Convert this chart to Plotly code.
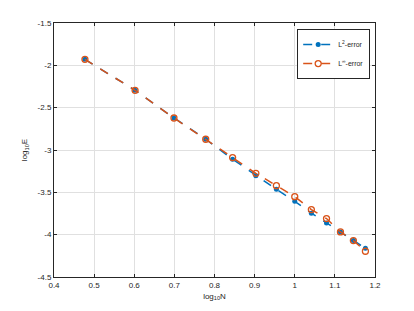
import numpy as np
import plotly.graph_objects as go

N = [3, 4, 5, 6, 7, 8, 9, 10, 11, 12, 13, 14, 15]
logN = list(np.log10(N))
err_L2 = [-1.929, -2.295, -2.622, -2.873, -3.109, -3.303, -3.464, -3.606, -3.747, -3.861, -3.968, -4.070, -4.160]
err_Linf = [-1.929, -2.295, -2.622, -2.873, -3.090, -3.275, -3.421, -3.551, -3.704, -3.810, -3.968, -4.070, -4.196]
xticks = [0.4, 0.5, 0.6, 0.7, 0.8, 0.9, 1.0, 1.1, 1.2]
xticklabels = ["0.4", "0.5", "0.6", "0.7", "0.8", "0.9", "1", "1.1", "1.2"]
yticks = [-4.5, -4, -3.5, -3, -2.5, -2, -1.5]
yticklabels = ["-4.5", "-4", "-3.5", "-3", "-2.5", "-2", "-1.5"]

blue = "#0072BD"
orange = "#D95319"

fig = go.Figure()
fig.add_trace(go.Scatter(
    x=logN, y=err_L2, mode="lines+markers", name="L<sup>2</sup>-error",
    line=dict(color=blue, width=1.5, dash="dash"),
    marker=dict(symbol="circle", size=5, color=blue, line=dict(width=0))))
fig.add_trace(go.Scatter(
    x=logN, y=err_Linf, mode="lines+markers", name="L<sup>∞</sup>-error",
    line=dict(color=orange, width=1.5, dash="dash"),
    marker=dict(symbol="circle-open", size=6, color=orange, line=dict(width=1.3))))

axis_common = dict(
    showline=True, linecolor="#262626", linewidth=1, mirror="ticks",
    ticks="inside", ticklen=3, tickcolor="#262626", showgrid=True,
    gridcolor="#e0e0e0", gridwidth=1, zeroline=False, automargin=False,
    tickfont=dict(size=8, color="#262626"),
)
fig.update_xaxes(range=[0.4, 1.2], tickvals=xticks, ticktext=xticklabels,
                 title=dict(text="log<sub>10</sub>N", font=dict(size=8, color="#262626"), standoff=4),
                 **axis_common)
fig.update_yaxes(range=[-4.5, -1.5], tickvals=yticks, ticktext=yticklabels,
                 title=dict(text="log<sub>10</sub>E", font=dict(size=8, color="#262626"), standoff=8),
                 **axis_common)

fig.update_layout(
    width=406, height=303,
    margin=dict(l=46, r=39, t=15, b=34),
    paper_bgcolor="white", plot_bgcolor="white",
    font=dict(family="Liberation Sans, Arial, sans-serif", size=8, color="#262626"),
    legend=dict(x=0.985, y=0.976, xanchor="right", yanchor="top",
                bordercolor="#262626", borderwidth=1, bgcolor="white",
                font=dict(size=7), itemwidth=30, tracegroupgap=0),
    showlegend=True,
)

fig.write_html("out.html")
